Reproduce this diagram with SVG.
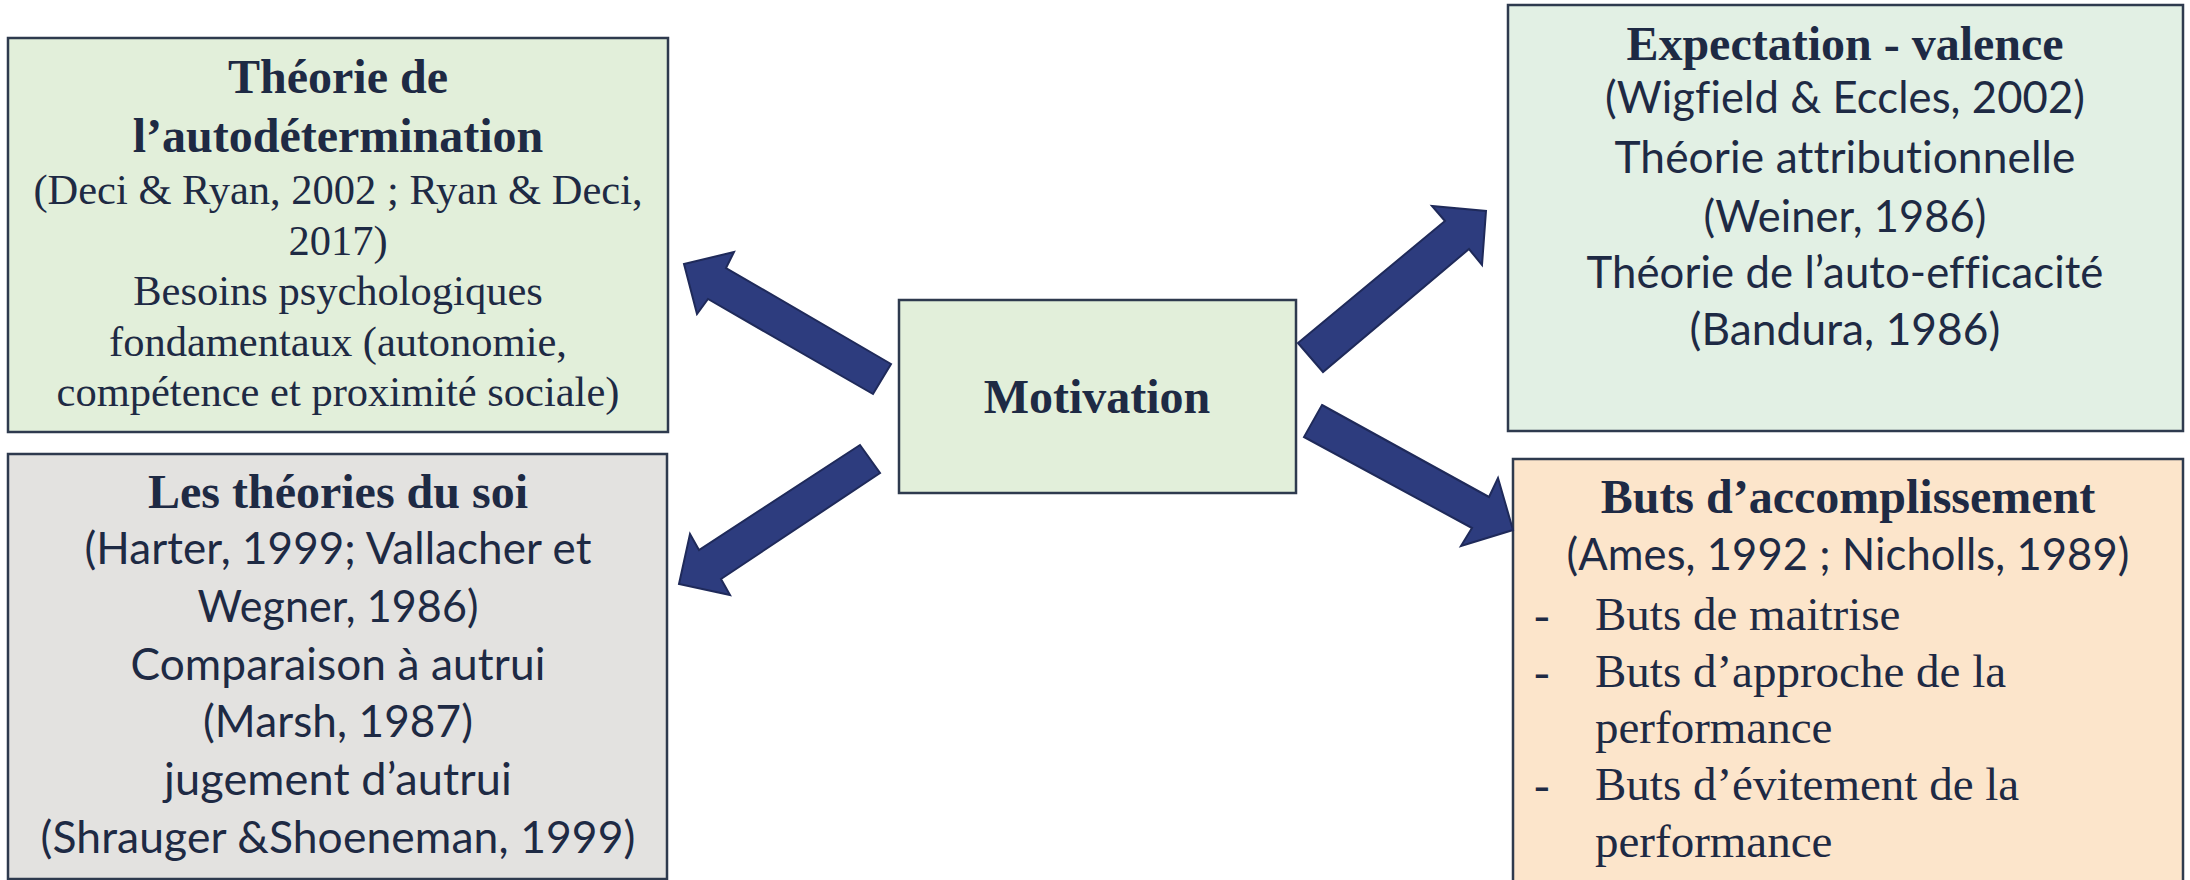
<svg xmlns="http://www.w3.org/2000/svg" width="2190" height="880" viewBox="0 0 2190 880">
  <style>
    .box { stroke: #2E3A4E; stroke-width: 2.5; }
    .title { font-family: "Liberation Serif", "Times New Roman", serif; font-weight: bold; font-size: 48px; fill: #1E2A44; text-anchor: middle; }
    .serif { font-family: "Liberation Serif", "Times New Roman", serif; fill: #1E2A44; }
    .sans { font-family: Lato, "Liberation Sans", sans-serif; font-size: 44px; fill: #1E2A44; text-anchor: middle;
            font-variant-ligatures: none; font-feature-settings: "liga" 0, "clig" 0, "dlig" 0; letter-spacing: 0.1px; }
    .arrow { fill: #2D3C7E; stroke: #1F2A5A; stroke-width: 2; stroke-linejoin: miter; }
  </style>

  <rect width="2190" height="880" fill="#FFFFFF"/>

  <!-- Self-determination theory -->
  <g id="node-autodetermination">
    <rect class="box" x="8" y="38" width="660" height="394" fill="#E2EFDA"/>
    <text class="title" x="338" y="93">Théorie de</text>
    <text class="title" x="338" y="152">l’autodétermination</text>
    <g class="serif" font-size="42.5" text-anchor="middle">
      <text x="338" y="204">(Deci &amp; Ryan, 2002 ; Ryan &amp; Deci,</text>
      <text x="338" y="255">2017)</text>
      <text x="338" y="305">Besoins psychologiques</text>
      <text x="338" y="356">fondamentaux (autonomie,</text>
      <text x="338" y="406">compétence et proximité sociale)</text>
    </g>
  </g>

  <!-- Self theories -->
  <g id="node-soi">
    <rect class="box" x="8" y="454" width="659" height="425" fill="#E3E2E0"/>
    <text class="title" x="338" y="508">Les théories du soi</text>
    <text class="sans" x="338" y="564" textLength="507" lengthAdjust="spacingAndGlyphs">(Harter, 1999; Vallacher et</text>
    <text class="sans" x="338" y="622" textLength="281" lengthAdjust="spacingAndGlyphs">Wegner, 1986)</text>
    <text class="sans" x="338" y="680" textLength="415" lengthAdjust="spacingAndGlyphs">Comparaison à autrui</text>
    <text class="sans" x="338" y="737" textLength="270" lengthAdjust="spacingAndGlyphs">(Marsh, 1987)</text>
    <text class="sans" x="338" y="795" textLength="348" lengthAdjust="spacingAndGlyphs">jugement d’autrui</text>
    <text class="sans" x="338" y="853" textLength="595" lengthAdjust="spacingAndGlyphs">(Shrauger &amp;Shoeneman, 1999)</text>
  </g>

  <!-- Expectancy-value -->
  <g id="node-expectation">
    <rect class="box" x="1508" y="5" width="675" height="426" fill="#E2F0E4"/>
    <text class="title" x="1845" y="60">Expectation - valence</text>
    <text class="sans" x="1845" y="113" textLength="480" lengthAdjust="spacingAndGlyphs">(Wigfield &amp; Eccles, 2002)</text>
    <text class="sans" x="1845" y="173" textLength="461" lengthAdjust="spacingAndGlyphs">Théorie attributionnelle</text>
    <text class="sans" x="1845" y="232" textLength="283" lengthAdjust="spacingAndGlyphs">(Weiner, 1986)</text>
    <text class="sans" x="1845" y="288" textLength="517" lengthAdjust="spacingAndGlyphs">Théorie de l’auto-efficacité</text>
    <text class="sans" x="1845" y="345" textLength="311" lengthAdjust="spacingAndGlyphs">(Bandura, 1986)</text>
  </g>

  <!-- Achievement goals -->
  <g id="node-buts">
    <rect class="box" x="1513" y="459" width="670" height="440" fill="#FCE5CB"/>
    <text class="title" x="1848" y="513">Buts d’accomplissement</text>
    <text class="sans" x="1848" y="570" textLength="563" lengthAdjust="spacingAndGlyphs">(Ames, 1992 ; Nicholls, 1989)</text>
    <g class="serif" font-size="47">
      <text x="1534" y="630">-</text>
      <text x="1595" y="630">Buts de maitrise</text>
      <text x="1534" y="687">-</text>
      <text x="1595" y="687">Buts d’approche de la</text>
      <text x="1595" y="743">performance</text>
      <text x="1534" y="800">-</text>
      <text x="1595" y="800">Buts d’évitement de la</text>
      <text x="1595" y="857">performance</text>
    </g>
  </g>

  <!-- Central node -->
  <g id="node-motivation">
    <rect class="box" x="899" y="300" width="397" height="193" fill="#E2EFDA"/>
    <text class="title" x="1097" y="413">Motivation</text>
  </g>

  <!-- Block arrows radiating from the central node -->
  <g id="connectors">
    <polygon class="arrow" points="891,364 726,268 734,252 684,264 697,314 708,299 873,394"/>
    <polygon class="arrow" points="1298,343 1445,221 1432,206 1486,211 1482,265 1469,249 1323,372"/>
    <polygon class="arrow" points="860,445 699,550 690,534 679,584 730,595 721,579 880,473"/>
    <polygon class="arrow" points="1322,405 1489,497 1498,478 1513,530 1461,546 1472,528 1304,437"/>
  </g>
</svg>
